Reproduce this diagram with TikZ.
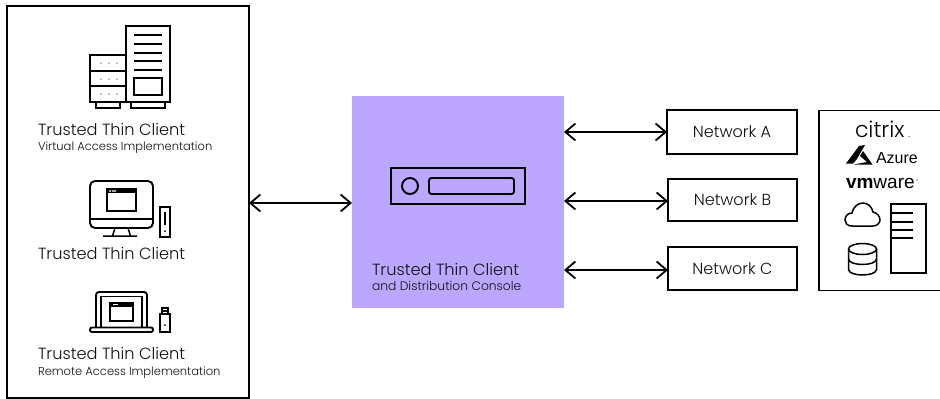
\documentclass[tikz,border=0pt]{standalone}
\usepackage{fontspec}
\usetikzlibrary{arrows.meta}
\setmainfont{Liberation Sans}
\newfontfamily\lightf[UprightFont=* Light]{Poppins}
\definecolor{vio}{HTML}{BBA7FF}
\definecolor{ink}{HTML}{111111}
\tikzset{
 box/.style={draw=black,line width=1.9pt,fill=white,outer sep=0pt,inner sep=0pt},
 ic/.style={draw=black,line width=1.9pt},
 icn/.style={draw=black,line width=1.5pt},
 lab/.style={anchor=base west,inner sep=0pt,outer sep=0pt,text=ink},
 big/.style={lab,font=\lightf\fontsize{16.2}{18}\selectfont},
 small/.style={lab,font=\lightf\fontsize{11.5}{13}\selectfont},
 netlab/.style={font=\lightf\fontsize{16}{18}\selectfont,text=ink},
 twoway/.style={line width=1.8pt,{Straight Barb[length=10pt,width=17pt]}-{Straight Barb[length=10pt,width=17pt]}},
}
\begin{document}
\begin{tikzpicture}[x=1pt,y=-1pt]
\useasboundingbox (0,0) rectangle (940,399);
\begin{scope}
\clip (0,0) rectangle (940,399);
\node[box,minimum width=242pt,minimum height=392pt] (left) at (128,202) {};
\node[draw=none,fill=vio,minimum width=212pt,minimum height=212pt,inner sep=0pt,outer sep=0pt] (mid) at (458,202) {};
\node[box,minimum width=130pt,minimum height=44pt,netlab] (neta) at (732,132) {Network A};
\node[box,minimum width=129pt,minimum height=42pt,netlab] (netb) at (732.5,200) {Network B};
\node[box,minimum width=129pt,minimum height=43pt,netlab] (netc) at (732.5,268.5) {Network C};
\node[box,minimum width=135pt,minimum height=180pt] (cloud) at (886.5,200.5) {};
\end{scope}
\draw[twoway] ([yshift=-1pt]left.east) -- ([yshift=-1pt]mid.west);
\draw[twoway] (mid.east |- neta.west) -- (neta.west);
\draw[twoway] ([yshift=-1pt]mid.east |- netb.west) -- ([yshift=-1pt]netb.west);
\draw[twoway] ([yshift=-1.5pt]mid.east |- netc.west) -- ([yshift=-1.5pt]netc.west);
% server icon
\draw[ic] (126,26) rectangle (170,102);
\foreach \y in {35,44,53,61,70} \draw[icn] (134,\y) -- (162,\y);
\draw[ic] (134,78) rectangle (162,95);
\draw[icn] (131,102) -- (131,108) -- (165,108) -- (165,102);
\draw[ic] (90,55) rectangle (126,71);
\draw[ic] (90,71) rectangle (126,86);
\draw[ic] (90,86) rectangle (126,102);
\draw[icn] (96,102) -- (96,108) -- (120,108) -- (120,102);
\foreach \y in {63,79,94} \foreach \x in {101,109,117} \fill (\x,\y) circle (0.7pt);
% monitor icon
\draw[ic,rounded corners=5pt] (90,181) rectangle (153,228);
\draw[icn] (90,219) -- (153,219);
\draw[icn] (107,189) rectangle (136,211);
\fill (107,189) rectangle (136,193);
\fill[white] (109,190.4) rectangle (111,191.6) (112,190.4) rectangle (116,191.6);
\draw[icn] (115,228) -- (112.5,236) (128,228) -- (130.5,236) (103,236) -- (137,236);
\draw[ic] (160,207) rectangle (170,237);
\draw[icn] (165,212) -- (165,225);
\fill (165,231) circle (1pt);
% laptop icon
\draw[ic,rounded corners=3pt] (96,327) -- (96,292) -- (147,292) -- (147,327);
\draw[icn] (101,327) -- (101,296.5) -- (142,296.5) -- (142,327);
\draw[icn] (110,303) rectangle (133,321);
\fill (110,303) rectangle (133,306.5);
\fill[white] (113,304.2) rectangle (118,305.2);
\draw[ic,rounded corners=2pt] (90,327.5) -- (153,327.5) -- (153,332) -- (90,332) -- cycle;
\draw[ic] (160,314) rectangle (170,332);
\draw[icn] (162,314) -- (162,308) -- (168,308) -- (168,314) (162,311) -- (168,311);
\fill (165,325) circle (1pt);
% appliance icon
\draw[ic] (391,168) rectangle (525,204);
\draw[ic] (410,186) circle (8pt);
\draw[ic,rounded corners=2.5pt] (429,178) rectangle (514,194);
% labels
\node[big] (t1) at (38,135.5) {Trusted Thin Client};
\node[small] (s1) at (38,150) {Virtual Access Implementation};
\node[big] (t2) at (38,259) {Trusted Thin Client};
\node[big] (t3) at (38,359) {Trusted Thin Client};
\node[small] (s3) at (38,375) {Remote Access Implementation};
\node[big] (t4) at (372,275) {Trusted Thin Client};
\node[small,font=\lightf\fontsize{12.3}{14}\selectfont] (s4) at (372,290) {and Distribution Console};
% vendor marks
\node[lab,text=black,font=\lightf\fontsize{22}{24}\selectfont] (citrix) at (855,137) {citrix};
\fill (909,136.5) circle (0.5pt);
\fill (846,163.5) -- (859,146) -- (865,145) -- (857,159) -- (853,163.5) -- cycle;
\fill (863,151) -- (872.5,164.5) -- (854,164.5) -- (867,162) -- (860,156) -- cycle;
\node[lab,text=black,font=\fontsize{16}{18}\selectfont] (azure) at (876,163) {Azure};
\node[lab,text=black,font=\fontsize{19}{21}\selectfont] (vm) at (846,188) {\textbf{vm}ware};
\fill (917,180) circle (0.6pt);
\draw[icn] (852,226) .. controls (847,226) and (845,223) .. (845,220) .. controls (845,216) and (848,213) .. (852,213) .. controls (853,207) and (858,203) .. (863,203) .. controls (868,203) and (872,207) .. (873,212) .. controls (877,213) and (880,216) .. (880,220) .. controls (880,223) and (877,226) .. (873,226) -- cycle;
\draw[ic] (891,204) rectangle (926,273);
\foreach \y in {213,222,230,238} \draw[icn] (891,\y) -- (913,\y);
\draw[icn] (862.5,249) ellipse [x radius=14pt,y radius=5.5pt];
\draw[icn] (848.5,249) -- (848.5,269.5) .. controls (849,276.8) and (876,276.8) .. (876.5,269.5) -- (876.5,249);
\draw[icn] (848.5,259) .. controls (849,266.3) and (876,266.3) .. (876.5,259);
\end{tikzpicture}
\end{document}
